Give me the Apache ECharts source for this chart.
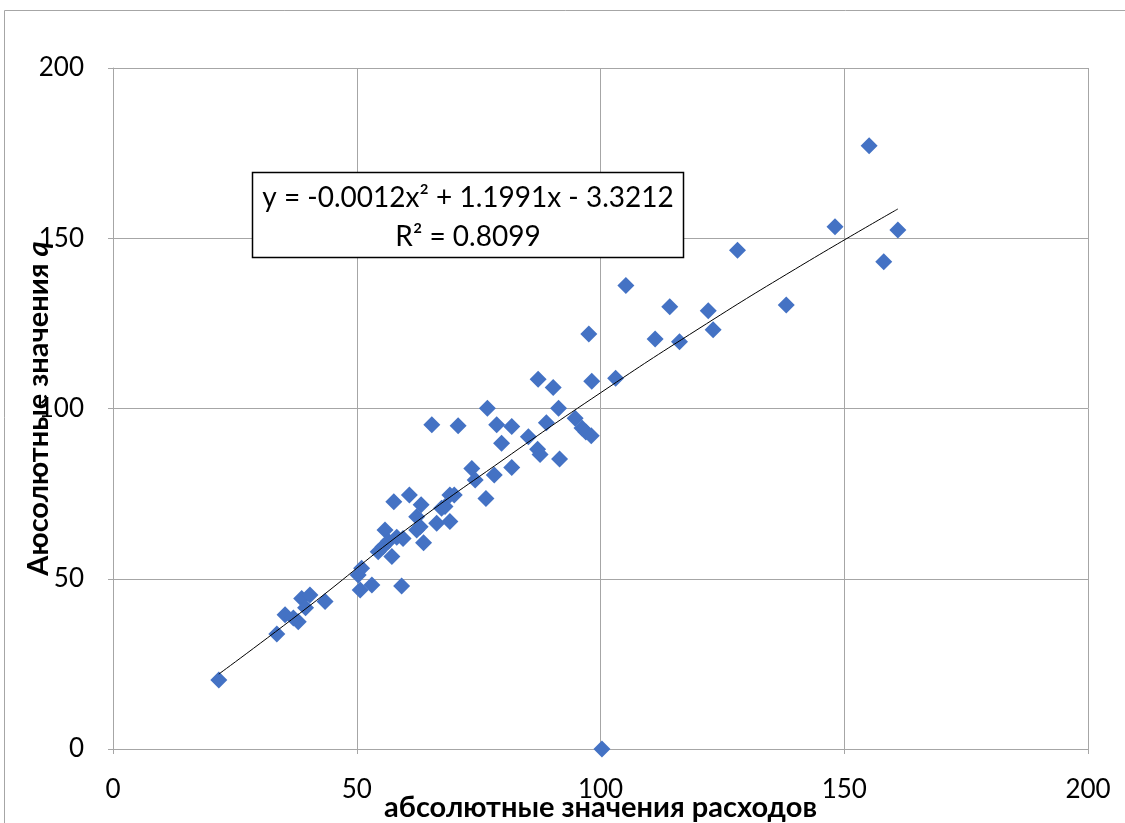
<!DOCTYPE html>
<html>
<head>
<meta charset="utf-8">
<script src="https://cdn.jsdelivr.net/npm/echarts@6/dist/echarts.min.js"></script>
<style>
html,body{margin:0;padding:0;background:#fff;overflow:hidden;}
#chart{width:1125px;height:823px;}
</style>
</head>
<body>
<div id="chart"></div>
<script>
// Observed points: [расходы, q]
const pointsX = [21.7,33.6,35.3,38.0,38.7,40.4,39.5,43.5,37.0,50.3,51.0,50.7,53.1,59.2,54.4,55.4,57.2,55.8,56.5,58.2,57.6,60.8,63.2,62.3,62.3,59.5,63.7,63.0,66.4,69.1,67.4,68.1,69.1,70.0,65.4,70.8,73.6,74.3,76.5,78.2,81.8,76.8,78.7,79.7,81.8,85.2,87.1,87.6,88.9,91.6,87.2,90.3,91.4,94.8,96.2,97.0,98.1,97.6,98.2,103.1,105.2,111.2,114.2,116.2,122.1,123.1,128.1,138.1,148.1,155.1,158.1,161.0,100.3];
const pointsY = [20.3,33.8,39.4,37.4,44.2,45.2,41.5,43.3,38.5,51.1,53.1,46.7,48.2,47.9,57.9,59.4,56.5,64.3,61.0,62.2,72.6,74.6,71.7,68.2,64.3,61.8,60.6,65.3,66.3,66.8,70.7,71.2,74.6,74.6,95.2,94.9,82.4,79.0,73.6,80.5,82.7,100.1,95.2,89.8,94.7,91.7,88.0,86.5,95.8,85.2,108.6,106.2,100.1,97.1,94.3,93.1,92.0,121.9,108.0,108.9,136.1,120.4,129.9,119.6,128.7,123.1,146.5,130.4,153.4,177.2,143.1,152.4,0];
// Trend line
const trendX = [21.7,40,60,80,100,120,140,161];
const trendY = [22.0,41.7,64.3,84.9,104.6,123.3,141.0,158.6];
const xTicks = [0,50,100,150,200];
const yTicks = [0,50,100,150,200];
const equationText = 'y = -0.0012x² + 1.1991x - 3.3212';
const r2Text = 'R² = 0.8099';
const xName = 'абсолютные значения расходов';
const yNameMain = 'Аюсолютные значения ';
const yNameItalic = 'q';

const scatterData = pointsX.map((x,i)=>[x,pointsY[i]]);
const trendData = trendX.map((x,i)=>[x,trendY[i]]);
const FONT = 'Lato';
const gridColor = '#A6A6A6';

const chart = echarts.init(document.getElementById('chart'));
chart.setOption({
  animation:false,
  backgroundColor:'#fff',
  grid:{left:113,right:37,top:68,bottom:74,containLabel:false,outerBoundsMode:'none'},
  xAxis:{
    type:'value',min:xTicks[0],max:xTicks[xTicks.length-1],interval:50,
    axisLine:{show:true,lineStyle:{color:gridColor,width:1}},
    axisTick:{show:true,length:5,lineStyle:{color:gridColor}},
    splitLine:{show:true,lineStyle:{color:gridColor,width:1}},
    axisLabel:{fontFamily:FONT,fontSize:26,color:'#000',margin:28},
    name:xName,nameLocation:'middle',nameGap:44,nameMoveOverlap:false,
    nameTextStyle:{fontFamily:FONT,fontSize:29,fontWeight:'bold',color:'#000'}
  },
  yAxis:{
    type:'value',min:yTicks[0],max:yTicks[yTicks.length-1],interval:50,
    axisLine:{show:true,lineStyle:{color:gridColor,width:1}},
    axisTick:{show:true,length:5,lineStyle:{color:gridColor}},
    splitLine:{show:true,lineStyle:{color:gridColor,width:1}},
    axisLabel:{fontFamily:FONT,fontSize:26,color:'#000',margin:29},
    name:'{b|'+yNameMain+'}{i|'+yNameItalic+'}',nameLocation:'middle',nameGap:60,nameMoveOverlap:false,
    nameTextStyle:{rich:{
      b:{fontFamily:FONT,fontSize:29,fontWeight:'bold',color:'#000'},
      i:{fontFamily:FONT,fontSize:29,fontWeight:'bold',fontStyle:'italic',color:'#000'}
    }}
  },
  series:[
    {type:'scatter',data:scatterData,symbol:'diamond',symbolSize:17,
     itemStyle:{color:'#4472C4',opacity:1},z:3},
    {type:'line',data:trendData,showSymbol:false,smooth:true,
     lineStyle:{color:'#000',width:1},z:4}
  ],
  graphic:[
    {type:'rect',shape:{x:4.5,y:10.5,width:1200,height:900},
     style:{fill:'none',stroke:'#A6A6A6',lineWidth:1},z:0,silent:true},
    {type:'rect',shape:{x:252.5,y:172.5,width:431,height:85},
     style:{fill:'#fff',stroke:'#000',lineWidth:1.5},z:10},
    {type:'text',x:468,y:198,z:11,
     style:{text:equationText,fontFamily:FONT,fontSize:28,fill:'#000',align:'center',verticalAlign:'middle'}},
    {type:'text',x:468,y:237,z:11,
     style:{text:r2Text,fontFamily:FONT,fontSize:28,fill:'#000',align:'center',verticalAlign:'middle'}}
  ]
});
</script>
</body>
</html>
